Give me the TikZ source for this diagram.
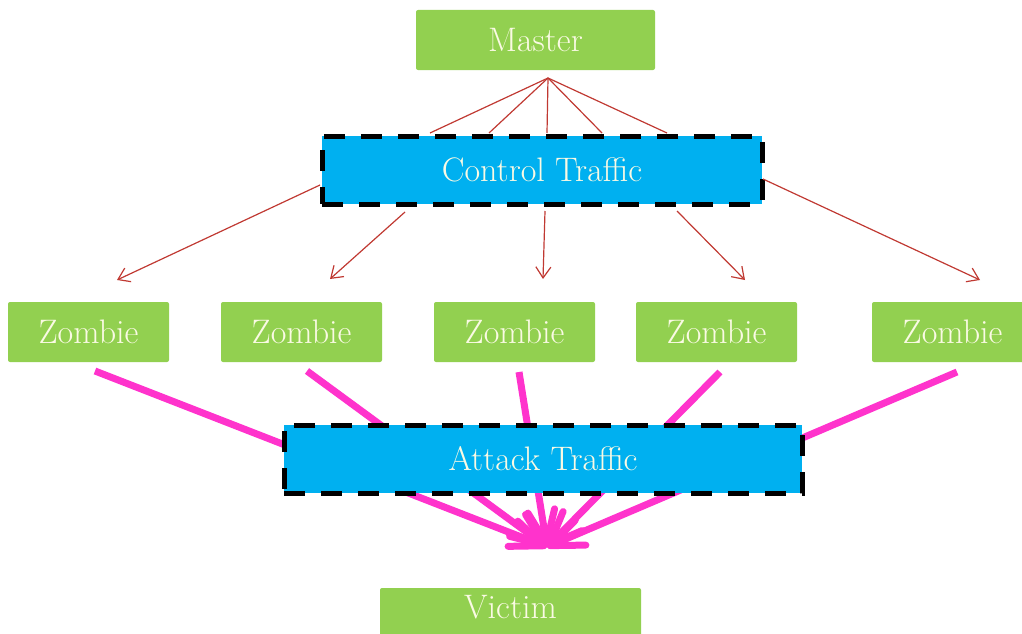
\documentclass[tikz,border=0pt]{standalone}
\usetikzlibrary{arrows.meta}
\definecolor{hostgreen}{RGB}{146,208,80}
\definecolor{trafficblue}{RGB}{0,176,240}
\definecolor{ctrlred}{RGB}{192,57,50}
\definecolor{attackpink}{RGB}{255,51,204}
\definecolor{labelcream}{RGB}{250,250,228}
\begin{document}
\begin{tikzpicture}[x=1pt,y=-1pt,
  hostbox/.style={fill=hostgreen, rounded corners=2pt, text=labelcream,
    font=\fontsize{34}{40}\selectfont, inner sep=0pt,
    minimum width=#1, minimum height=60pt},
  trafficbox/.style={fill=trafficblue, draw=black, line width=5pt,
    dash pattern=on 21pt off 16pt, text=labelcream,
    font=\fontsize{34}{40}\selectfont, inner sep=0pt,
    minimum width=#1, minimum height=68pt},
  ctrlline/.style={draw=ctrlred, line width=1.2pt},
  ctrlarrow/.style={ctrlline, -{Straight Barb[length=11pt,width=15pt,line width=1.2pt]}},
  attackline/.style={draw=attackpink, line width=7pt,
    -{Straight Barb[length=33pt,width=27pt,line width=7pt, round]}}
]
\path[use as bounding box] (0,0) rectangle (1022,634);
\clip (0,0) rectangle (1022,634);

% hosts
\node[hostbox=239pt] (master) at (535.5,40) {Master};
\node[hostbox=161pt] (z1) at (88.5,332) {Zombie};
\node[hostbox=161pt] (z2) at (301.5,332) {Zombie};
\node[hostbox=161pt] (z3) at (514.5,332) {Zombie};
\node[hostbox=161pt] (z4) at (716.5,332) {Zombie};
\node[hostbox=161pt] (z5) at (952.5,332) {Zombie};
\node[hostbox=261pt, minimum height=62pt, text height=30pt, text depth=32pt]
  (victim) at (510.5,619) {Victim};

% attack flows converge on the victim, passing behind the traffic band
\coordinate (hit) at (547,547);
\coordinate (a1) at (95,371);
\coordinate (a2) at (307,371);
\coordinate (a3) at (519,372);
\coordinate (a4) at (720,372);
\coordinate (a5) at (957,372);
\foreach \s in {a1,a2,a3,a4,a5}
  \draw[attackline] (\s) -- (hit);

% traffic bands
\node[trafficbox=440pt] (ctrl) at (542,170) {Control Traffic};
\node[trafficbox=518pt] (attack) at (543,459) {Attack Traffic};

% master fans out to the control channel
\coordinate (tap) at (548,78);
\foreach \x in {430,489,547,602,667}
  \draw[ctrlline] (tap) -- (\x,133);

% control channel reaches each zombie
\coordinate (c1s) at (320,185);  \coordinate (c1e) at (117,280);
\coordinate (c2s) at (405,212);  \coordinate (c2e) at (330,279);
\coordinate (c3s) at (545,211);  \coordinate (c3e) at (543,279);
\coordinate (c4s) at (677,211);  \coordinate (c4e) at (745,280);
\coordinate (c5s) at (763,179);  \coordinate (c5e) at (980,280);
\foreach \i in {1,...,5}
  \draw[ctrlarrow] (c\i s) -- (c\i e);
\end{tikzpicture}
\end{document}
